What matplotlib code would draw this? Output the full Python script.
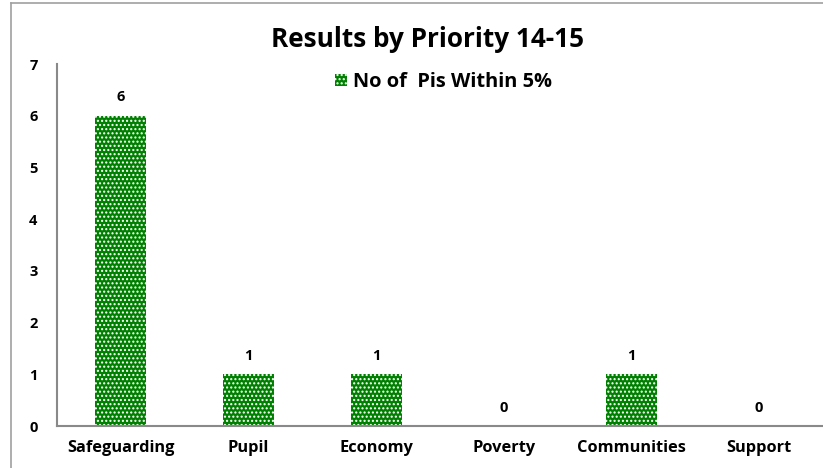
import numpy as np
import matplotlib.pyplot as plt
from matplotlib.lines import Line2D

plt.rcParams['font.family'] = ['Open Sans', 'DejaVu Sans']
plt.rcParams['hatch.color'] = 'white'
plt.rcParams['hatch.linewidth'] = 1.0

categories = ['Safeguarding', 'Pupil', 'Economy', 'Poverty', 'Communities', 'Support']
values = [6, 1, 1, 0, 1, 0]
series_name = 'No of  Pis Within 5%'
title = 'Results by Priority 14-15'

fig = plt.figure(figsize=(8.23, 4.68), dpi=100)
ax = fig.add_axes([0.0693, 0.0897, 0.9307, 0.7735])

x = np.arange(len(categories))
bars = ax.bar(x, values, width=0.4, color='#008000', edgecolor='white',
              linewidth=0, hatch='....', label=series_name)

for xi, v in zip(x, values):
    ax.text(xi, v + 0.22, str(v), ha='center', va='bottom',
            fontsize=10.5, fontweight='bold')

ax.set_xlim(-0.5, 5.5)
ax.set_ylim(0, 7)
ax.set_yticks(range(0, 8))
ax.set_xticks(x)
ax.set_xticklabels(categories, fontsize=11.8, fontweight='bold')
for lab in ax.get_yticklabels():
    lab.set_fontweight('bold')
    lab.set_fontsize(10.5)
ax.tick_params(axis='both', length=0)
ax.tick_params(axis='y', pad=14)
ax.tick_params(axis='x', pad=10)

for s in ['top', 'right']:
    ax.spines[s].set_visible(False)
for s in ['left', 'bottom']:
    ax.spines[s].set_color('#898989')
    ax.spines[s].set_linewidth(1.5)

fig.text(0.519, 0.915, title, ha='center', va='center',
         fontsize=18.8, fontweight='bold')

leg = ax.legend(loc='center', bbox_to_anchor=(0.504, 0.95), frameon=False,
                prop={'weight': 'bold', 'size': 14.4}, handlelength=0.6,
                handleheight=0.6, handletextpad=0.3)

# outer chart border
fig.add_artist(Line2D([11 / 823, 11 / 823], [0, 1 - 3 / 468],
                      color='#a0a0a0', lw=1.2, transform=fig.transFigure))
fig.add_artist(Line2D([11 / 823, 1], [1 - 3 / 468, 1 - 3 / 468],
                      color='#a0a0a0', lw=1.2, transform=fig.transFigure))

fig.savefig('out.png', dpi=100)
